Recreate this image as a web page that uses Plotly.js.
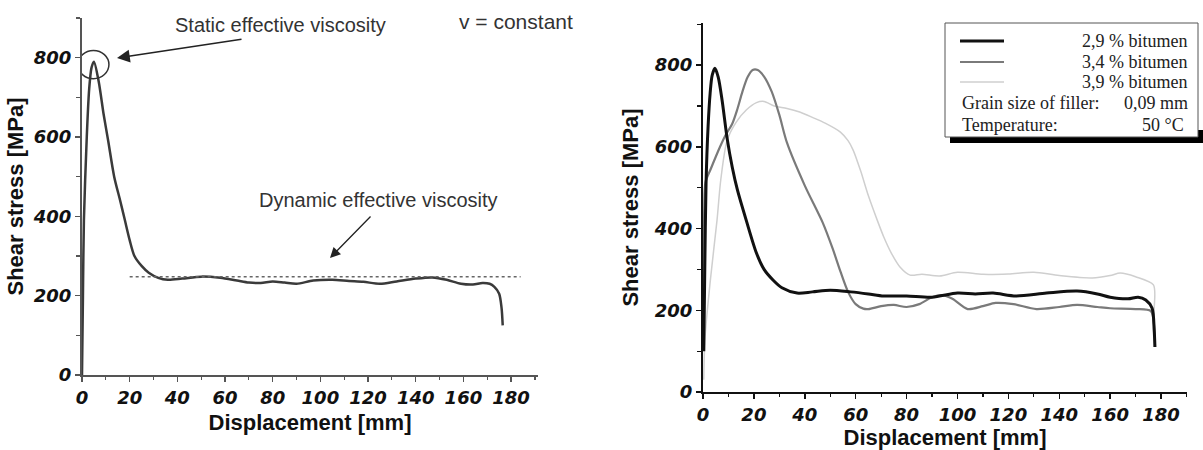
<!DOCTYPE html>
<html>
<head>
<meta charset="utf-8">
<script src="https://cdn.plot.ly/plotly-3.0.1.min.js"></script>
<style>html,body{margin:0;padding:0;background:#fff;}#chart{width:1203px;height:450px;}</style>
</head>
<body>
<div id="chart"></div>
<script>
// ---- Left panel: single test curve ----
const leftX = [0, 0.4, 0.8, 2, 3, 4, 5, 7, 9, 11, 13.5, 16, 18, 20, 22, 25, 28, 32, 36, 42, 50, 58, 65, 70, 75, 80, 85, 90, 97, 105, 112, 118, 125, 132, 140, 147, 153, 159, 164, 168, 171, 173, 175, 176, 176.5];
const leftY = [0, 200, 390, 600, 720, 775, 790, 740, 660, 590, 500, 440, 390, 340, 300, 275, 258, 245, 240, 243, 248, 245, 238, 233, 232, 236, 233, 230, 238, 240, 237, 235, 230, 236, 243, 246, 240, 230, 228, 232, 230, 222, 205, 170, 125];

// ---- Right panel: three bitumen contents ----
const seriesNames = ["2,9 % bitumen", "3,4 % bitumen", "3,9 % bitumen"];
const b29X = [0.3, 0.7, 1.2, 2, 2.8, 3.6, 4.7, 6, 7.5, 9.5, 11.5, 13.5, 17, 21, 24, 27.5, 31, 37, 43, 50, 58, 65, 71, 80, 90, 100, 107, 114, 123, 135, 147, 155, 160, 167, 171, 174, 176.5, 177.3, 177.6];
const b29Y = [100, 300, 511, 650, 731, 775, 792, 770, 714, 620, 550, 495, 420, 340, 300, 274, 255, 242, 245, 249, 245, 240, 235, 235, 232, 242, 240, 242, 235, 242, 247, 240, 232, 228, 232, 225, 205, 152, 110];
const b34X = [0.2, 0.5, 1, 3, 6.7, 9, 11.4, 13.5, 15.5, 17.5, 19.5, 21.5, 24, 27, 30, 33, 40, 47, 51, 54, 57, 60, 63, 65, 70, 75, 80, 85, 90, 94, 98, 104, 110, 115, 122, 131, 140, 147, 155, 160, 170, 176, 177.3, 177.6];
const b34Y = [120, 450, 514, 545, 600, 630, 655, 692, 735, 770, 788, 788, 772, 735, 678, 610, 505, 415, 350, 295, 245, 215, 204, 203, 210, 213, 208, 215, 232, 237, 228, 203, 210, 218, 215, 203, 208, 213, 208, 205, 203, 198, 160, 110];
const b39X = [0.3, 0.8, 3, 5.5, 7, 9.5, 13, 17, 21, 24, 28, 33, 38, 43, 48, 54, 57, 59, 62, 65, 68.5, 71, 74, 77.4, 81.4, 86, 93, 100, 110, 120, 130, 140, 153, 160, 164, 170, 177, 177.3, 177.5];
const b39Y = [30, 134, 280, 420, 520, 616, 660, 690, 708, 711, 700, 694, 685, 672, 658, 636, 615, 592, 540, 480, 420, 380, 340, 306, 286, 288, 284, 293, 288, 289, 293, 285, 279, 285, 291, 282, 262, 200, 110];

// ---- Ticks and text ----
const xTicks = [0, 20, 40, 60, 80, 100, 120, 140, 160, 180];
const yTicks = [0, 200, 400, 600, 800];
const yTitle = "Shear stress [MPa]";
const xTitle = "Displacement [mm]";
const staticLabel = "Static effective viscosity";
const dynamicLabel = "Dynamic effective viscosity";
const vLabel = "v = constant";
const dynamicLevel = 248;
const dynamicFrom = 20, dynamicTo = 184;
const peakCircle = {x0: -1.7, x1: 11.3, y0: 747, y1: 818};
const legendExtra = [["Grain size of filler:", "0,09 mm"], ["Temperature:", "50 °C"]];

const W = 1203, H = 450;
const px = v => v / W;
const py = v => 1 - v / H;

const sans = "Liberation Sans, Arial, sans-serif";
const serif = "Liberation Serif, Times New Roman, serif";
const tickFont = {family: "DejaVu Sans, sans-serif", size: 18, weight: 'bold', style: 'italic', color: '#111'};
const titleFont = {family: sans, size: 22, weight: 'bold', color: '#111'};
const fmt = v => '<b><i>' + v + '</i></b>';

const colors = ['#111111', '#7a7a7a', '#cfcfcf'];
const widths = [3, 2.2, 1.5];

const traces = [
  {x: leftX, y: leftY, xaxis: 'x', yaxis: 'y', mode: 'lines', line: {color: '#3a3a3a', width: 2.5, shape: 'spline', smoothing: 0.8}, showlegend: false},
  {x: b39X, y: b39Y, xaxis: 'x2', yaxis: 'y2', mode: 'lines', name: seriesNames[2], line: {color: colors[2], width: widths[2], shape: 'spline', smoothing: 0.8}, showlegend: false},
  {x: b34X, y: b34Y, xaxis: 'x2', yaxis: 'y2', mode: 'lines', name: seriesNames[1], line: {color: colors[1], width: widths[1], shape: 'spline', smoothing: 0.8}, showlegend: false},
  {x: b29X, y: b29Y, xaxis: 'x2', yaxis: 'y2', mode: 'lines', name: seriesNames[0], line: {color: colors[0], width: widths[0], shape: 'spline', smoothing: 0.8}, showlegend: false}
];

function xAxis(domain, range, color, standoff) {
  return {
    domain: domain, range: range, showgrid: false, zeroline: false,
    showline: true, linecolor: color, linewidth: 2,
    tickmode: 'array', tickvals: xTicks, ticktext: xTicks.map(fmt),
    ticks: 'outside', ticklen: 5, tickwidth: 1.5, tickcolor: color,
    minor: {dtick: 10, ticks: 'outside', ticklen: 3, tickwidth: 1.2, tickcolor: color},
    tickfont: tickFont, automargin: false, fixedrange: true,
    title: {text: xTitle, font: titleFont, standoff: standoff}
  };
}
function yAxis(domain, range, color, standoff, anchor) {
  return {
    domain: domain, range: range, anchor: anchor, showgrid: false, zeroline: false,
    showline: true, linecolor: color, linewidth: 2,
    tickmode: 'array', tickvals: yTicks, ticktext: yTicks.map(fmt),
    ticks: 'outside', ticklen: 5, tickwidth: 1.5, tickcolor: color,
    minor: {dtick: 100, ticks: 'outside', ticklen: 4, tickwidth: 1.2, tickcolor: color},
    tickfont: tickFont, automargin: false, fixedrange: true,
    title: {text: yTitle, font: titleFont, standoff: standoff}
  };
}

const legendFont = {family: serif, size: 18, color: '#222'};
const layout = {
  width: W, height: H,
  margin: {l: 0, r: 0, t: 0, b: 0},
  paper_bgcolor: '#fff', plot_bgcolor: 'rgba(0,0,0,0)',
  showlegend: false,
  xaxis: Object.assign(xAxis([px(82), px(538)], [0, 191.3], '#555', 8), {anchor: 'y'}),
  yaxis: yAxis([py(375), py(18)], [0, 900], '#555', 3, 'x'),
  xaxis2: Object.assign(xAxis([px(703), px(1187)], [0, 190.2], '#111', 6), {anchor: 'y2'}),
  yaxis2: yAxis([py(392), py(23)], [0, 903], '#111', 9, 'x2'),
  shapes: [
    {type: 'line', xref: 'x', yref: 'y', x0: dynamicFrom, x1: dynamicTo, y0: dynamicLevel, y1: dynamicLevel, line: {color: '#666', width: 1.5, dash: 'dot'}},
    {type: 'circle', xref: 'x', yref: 'y', x0: peakCircle.x0, x1: peakCircle.x1, y0: peakCircle.y0, y1: peakCircle.y1, line: {color: '#333', width: 1.5}},
    {type: 'rect', xref: 'paper', yref: 'paper', x0: px(950), x1: px(1203), y0: py(143), y1: py(130), fillcolor: '#000', line: {width: 0}},
    {type: 'rect', xref: 'paper', yref: 'paper', x0: px(945), x1: px(1198), y0: py(137), y1: py(23), fillcolor: '#fff', line: {color: '#555', width: 1}},
    {type: 'line', xref: 'paper', yref: 'paper', x0: px(960), x1: px(1004), y0: py(41), y1: py(41), line: {color: colors[0], width: widths[0]}},
    {type: 'line', xref: 'paper', yref: 'paper', x0: px(960), x1: px(1004), y0: py(62), y1: py(62), line: {color: colors[1], width: widths[1]}},
    {type: 'line', xref: 'paper', yref: 'paper', x0: px(960), x1: px(1004), y0: py(82), y1: py(82), line: {color: colors[2], width: widths[2]}}
  ],
  annotations: [
    {xref: 'paper', yref: 'paper', x: px(280), y: py(25), text: staticLabel, showarrow: false, font: {family: sans, size: 20, color: '#333'}, xanchor: 'center', yanchor: 'middle'},
    {xref: 'paper', yref: 'paper', x: px(457), y: py(22), text: vLabel, showarrow: false, font: {family: sans, size: 21, color: '#333'}, xanchor: 'left', yanchor: 'middle'},
    {xref: 'paper', yref: 'paper', x: px(378), y: py(200), text: dynamicLabel, showarrow: false, font: {family: sans, size: 20, color: '#333'}, xanchor: 'center', yanchor: 'middle'},
    {xref: 'paper', yref: 'paper', x: px(117), y: py(58), text: '', showarrow: true, ax: 126, ay: -19, arrowhead: 2, arrowsize: 1.6, arrowwidth: 1.6, arrowcolor: '#222'},
    {xref: 'paper', yref: 'paper', x: px(330), y: py(258), text: '', showarrow: true, ax: 42, ay: -43, arrowhead: 2, arrowsize: 1.6, arrowwidth: 1.3, arrowcolor: '#222'},
    {xref: 'paper', yref: 'paper', x: px(1190), y: py(41), text: seriesNames[0], showarrow: false, font: legendFont, xanchor: 'right', yanchor: 'middle'},
    {xref: 'paper', yref: 'paper', x: px(1190), y: py(62), text: seriesNames[1], showarrow: false, font: legendFont, xanchor: 'right', yanchor: 'middle'},
    {xref: 'paper', yref: 'paper', x: px(1190), y: py(82), text: seriesNames[2], showarrow: false, font: legendFont, xanchor: 'right', yanchor: 'middle'},
    {xref: 'paper', yref: 'paper', x: px(960), y: py(103), text: legendExtra[0][0], showarrow: false, font: legendFont, xanchor: 'left', yanchor: 'middle'},
    {xref: 'paper', yref: 'paper', x: px(1190), y: py(103), text: legendExtra[0][1], showarrow: false, font: legendFont, xanchor: 'right', yanchor: 'middle'},
    {xref: 'paper', yref: 'paper', x: px(960), y: py(125), text: legendExtra[1][0], showarrow: false, font: legendFont, xanchor: 'left', yanchor: 'middle'},
    {xref: 'paper', yref: 'paper', x: px(1186), y: py(125), text: legendExtra[1][1], showarrow: false, font: legendFont, xanchor: 'right', yanchor: 'middle'}
  ]
};

Plotly.newPlot('chart', traces, layout, {staticPlot: true, displayModeBar: false});
</script>
</body>
</html>
